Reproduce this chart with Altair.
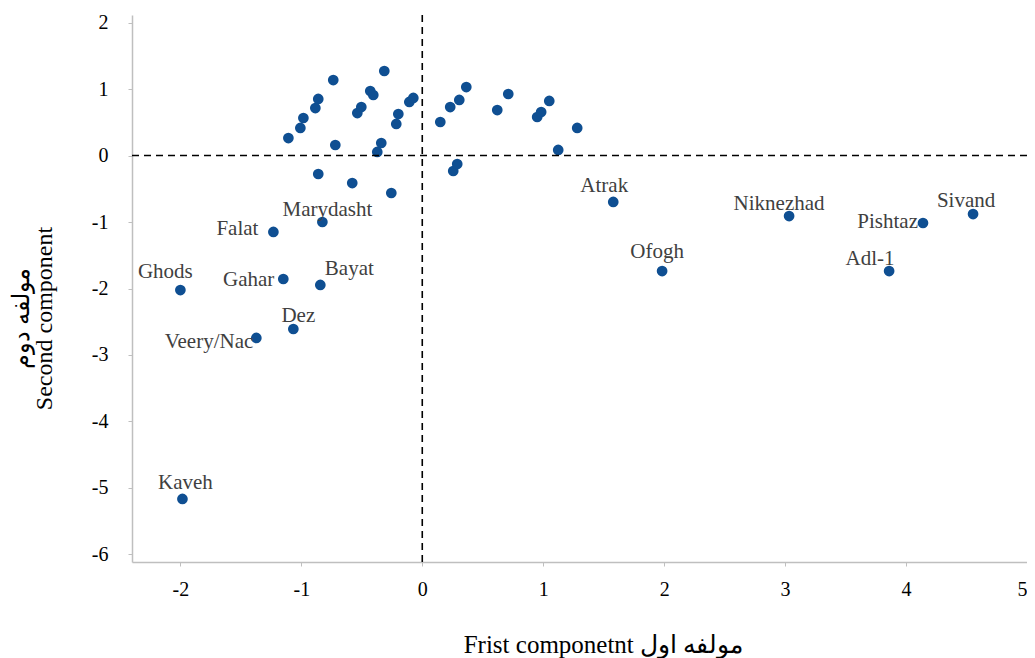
import altair as alt
import pandas as pd

# Unlabelled genotypes (first, second component)
cluster_pc1 = [-1.107, -1.008, -0.983, -0.884, -0.860, -0.736, -0.719, -0.537, -0.504,
               -0.430, -0.405, -0.314, -0.339, -0.372, -0.215, -0.198, -0.107, -0.074,
               -0.860, -0.579, -0.256, 0.149, 0.231, 0.306, 0.364, 0.256, 0.289,
               0.620, 0.711, 0.950, 0.983, 1.050, 1.281, 1.124]
cluster_pc2 = [0.263, 0.414, 0.564, 0.714, 0.850, 1.135, 0.158, 0.639, 0.729,
               0.970, 0.910, 1.271, 0.188, 0.053, 0.474, 0.624, 0.805, 0.865,
               -0.278, -0.414, -0.564, 0.504, 0.729, 0.835, 1.030, -0.233, -0.128,
               0.684, 0.925, 0.579, 0.654, 0.820, 0.414, 0.083]

# Labelled genotypes
label_names = ["Marydasht", "Falat", "Ghods", "Gahar", "Bayat", "Dez", "Veery/Nac",
               "Kaveh", "Atrak", "Niknezhad", "Pishtaz", "Sivand", "Ofogh", "Adl-1"]
label_pc1 = [-0.826, -1.231, -2.000, -1.149, -0.843, -1.066, -1.372,
             -1.983, 1.579, 3.033, 4.140, 4.554, 1.983, 3.860]
label_pc2 = [-1.000, -1.150, -2.023, -1.857, -1.947, -2.609, -2.744,
             -5.165, -0.699, -0.910, -1.015, -0.880, -1.737, -1.737]

x_ticks = [-2, -1, 0, 1, 2, 3, 4, 5]
y_ticks = [-6, -5, -4, -3, -2, -1, 0, 1, 2]
x_title = "Frist componetnt  مولفه اول"
y_title = ["مولفه دوم", "Second component"]

# label placement style: (align, dx, dy)
label_style = {
    "Marydasht": ("center", 5, -6), "Falat": ("right", -15, 3),
    "Ghods": ("center", -15, -12), "Gahar": ("right", -9, 7),
    "Bayat": ("center", 29, -10), "Dez": ("center", 5, -7),
    "Veery/Nac": ("right", -3, 10), "Kaveh": ("center", 3, -10),
    "Atrak": ("center", -9, -10), "Niknezhad": ("center", -10, -6),
    "Pishtaz": ("right", -5, 5), "Sivand": ("center", -7, -7),
    "Ofogh": ("center", -5, -13), "Adl-1": ("center", -19, -6),
}

FONT = "Liberation Serif"
POINT_COLOR = "#0f4f92"

points_df = pd.DataFrame({
    "pc1": cluster_pc1 + label_pc1,
    "pc2": cluster_pc2 + label_pc2,
})
labels_df = pd.DataFrame({"name": label_names, "pc1": label_pc1, "pc2": label_pc2})

xscale = alt.Scale(domain=[-2.4, 5.0], nice=False, zero=False)
yscale = alt.Scale(domain=[-6.113, 2.113], nice=False, zero=False)

x_axis = alt.Axis(values=x_ticks, labelExpr="'' + datum.value", grid=False,
                  labelFont=FONT, labelFontSize=20, labelColor="#000000",
                  labelPadding=13, tickSize=4, tickColor="#bfbfbf", tickWidth=1,
                  domainColor="#bfbfbf", domainWidth=1.5,
                  title=x_title, titleFont=FONT, titleFontSize=25,
                  titleFontWeight="normal", titleColor="#000000",
                  titleX=471, titleY=82, titleAlign="center", titleBaseline="middle")
y_axis = alt.Axis(values=y_ticks, labelExpr="'' + datum.value", grid=False,
                  labelFont=FONT, labelFontSize=20, labelColor="#000000",
                  labelPadding=20, tickSize=4, tickColor="#bfbfbf", tickWidth=1,
                  domainColor="#bfbfbf", domainWidth=1.5,
                  title=y_title, titleFont=FONT, titleFontSize=24,
                  titleFontWeight="normal", titleColor="#000000",
                  titleAngle=270, titleX=-111, titleY=303, titleAlign="center",
                  titleBaseline="middle", titleLineHeight=23)


def xenc():
    return alt.X("pc1:Q", scale=xscale, axis=x_axis)


def yenc():
    return alt.Y("pc2:Q", scale=yscale, axis=y_axis)


points = alt.Chart(points_df).mark_circle(size=115, color=POINT_COLOR, opacity=1).encode(
    x=xenc(), y=yenc(),
)

zero_df = pd.DataFrame({"pc1": [0], "pc2": [0]})
hline = alt.Chart(zero_df).mark_rule(color="black", strokeDash=[7, 5], strokeWidth=1.6).encode(
    y=yenc())
vline = alt.Chart(zero_df).mark_rule(color="black", strokeDash=[7, 5], strokeWidth=1.6).encode(
    x=xenc())

label_layers = []
for name in label_names:
    align, dx, dy = label_style[name]
    label_layers.append(
        alt.Chart(labels_df).transform_filter(alt.datum.name == name).mark_text(
            align=align, baseline="alphabetic", dx=dx, dy=dy,
            font=FONT, fontSize=21, color="#404040"
        ).encode(
            x=xenc(), y=yenc(),
            text="name:N",
        )
    )

chart = alt.layer(points, hline, vline, *label_layers).properties(
    width=895, height=547,
    autosize=alt.AutoSizeParams(type="none"),
    padding={"left": 124, "top": 7, "right": 0, "bottom": 96},
).configure(background="white").configure_view(stroke=None).configure_axis(
    labelFont=FONT, titleFont=FONT
).configure_text(font=FONT)

chart.save("out.html", embed_options={"renderer": "svg", "actions": False})
